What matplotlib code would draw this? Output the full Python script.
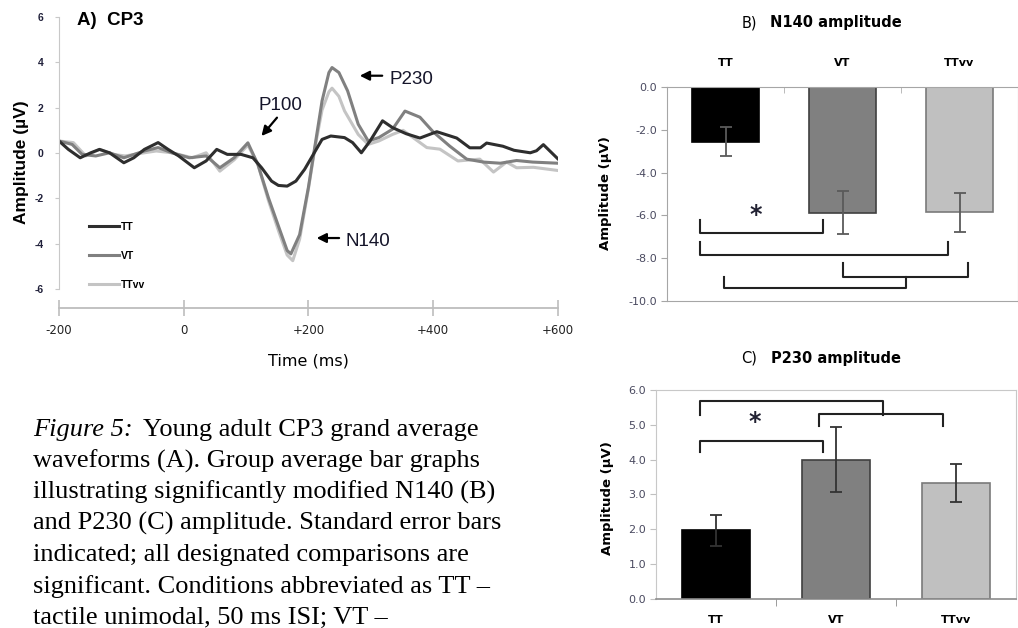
import numpy as np
import matplotlib.pyplot as plt

# ---- panel A: CP3 grand average waveforms ----
tt_time = [-200, -185, -166, -149, -135, -119, -96, -80, -63, -41, -25, -8, 17, 36, 53, 70,
           92, 111, 125, 141, 152, 166, 180, 194, 208, 222, 236, 258, 271, 285, 299, 319,
           335, 357, 379, 406, 438, 459, 476, 486, 512, 530, 556, 566, 577, 600]
tt_amp = [0.53, 0.16, -0.21, 0.01, 0.16, 0.01, -0.43, -0.21, 0.16, 0.46, 0.16, -0.13, -0.65,
          -0.35, 0.16, -0.06, -0.06, -0.21, -0.65, -1.24, -1.43, -1.46, -1.24, -0.72, -0.06,
          0.60, 0.75, 0.68, 0.46, 0.01, 0.53, 1.42, 1.12, 0.85, 0.66, 0.94, 0.66, 0.23, 0.23,
          0.44, 0.30, 0.12, 0.01, 0.10, 0.37, -0.25]

vt_time = [-200, -179, -163, -141, -119, -96, -63, -41, -19, 9, 36, 58, 81, 103, 119, 136,
           153, 166, 172, 186, 200, 211, 222, 233, 238, 249, 263, 280, 296, 313, 335, 355,
           379, 400, 427, 454, 481, 508, 534, 560, 600]
vt_amp = [0.53, 0.38, -0.06, -0.13, 0.01, -0.21, 0.09, 0.24, 0.01, -0.21, -0.13, -0.65, -0.21,
          0.45, -0.50, -1.98, -3.30, -4.30, -4.45, -3.60, -1.53, 0.38, 2.30, 3.55, 3.77, 3.55,
          2.74, 1.27, 0.53, 0.68, 1.05, 1.85, 1.58, 0.94, 0.30, -0.27, -0.40, -0.45, -0.33,
          -0.40, -0.45]

ttvv_time = [-200, -177, -157, -135, -113, -94, -63, -44, -19, 14, 36, 58, 81, 103, 119, 136,
             153, 166, 175, 186, 200, 211, 222, 233, 238, 249, 258, 280, 296, 313, 335, 352,
             368, 390, 411, 440, 475, 497, 518, 534, 561, 600]
ttvv_amp = [0.53, 0.46, -0.13, 0.16, -0.06, -0.13, 0.01, 0.09, 0.01, -0.21, 0.01, -0.80, -0.30,
            0.35, -0.50, -2.10, -3.50, -4.50, -4.75, -3.80, -1.60, 0.30, 1.90, 2.70, 2.86, 2.50,
            1.86, 0.82, 0.38, 0.53, 0.82, 1.00, 0.68, 0.24, 0.17, -0.35, -0.27, -0.84, -0.40,
            -0.65, -0.63, -0.77]

time_ticks = [-200, 0, 200, 400, 600]
time_labels = ['-200', '0', '+200', '+400', '+600']

# ---- panels B and C: group averages ----
conditions = ['TT', 'VT', 'TTvv']
bar_colors = ['#000000', '#808080', '#c0c0c0']
bar_edges = ['#000000', '#404040', '#7a7a7a']
n140_amp = [-2.55, -5.87, -5.85]
n140_err = [0.67, 1.00, 0.92]
p230_amp = [1.97, 4.00, 3.33]
p230_err = [0.45, 0.93, 0.55]

# significance brackets: (x left, x right, leg end, bar level)
n140_brackets = [(-0.22, 0.83, -6.22, -6.84), (-0.22, 1.90, -7.23, -7.85),
                 (1.00, 2.07, -8.22, -8.87), (-0.01, 1.54, -8.87, -9.42)]
p230_brackets = [(-0.13, 1.39, 5.28, 5.68), (0.855, 1.89, 4.96, 5.30),
                 (-0.13, 0.89, 4.22, 4.54)]

W, H = 1018, 628
fig = plt.figure(figsize=(W / 100, H / 100), dpi=100)


def rect(x0, y0, x1, y1):
    return [x0 / W, 1 - y1 / H, (x1 - x0) / W, (y1 - y0) / H]


sans = 'Liberation Sans'

# ================= A =================
axA = fig.add_axes(rect(59, 17, 557.7, 308.3))
axA.plot(ttvv_time, ttvv_amp, color='#c4c4c4', lw=2.2, label='TTvv')
axA.plot(vt_time, vt_amp, color='#808080', lw=2.2, label='VT')
axA.plot(tt_time, tt_amp, color='#2e2e2e', lw=2.2, label='TT')
axA.set_xlim(-200, 600)
axA.set_ylim(-6.85, 6)
for s in ['top', 'right']:
    axA.spines[s].set_visible(False)
axA.spines['left'].set_bounds(-6, 6)
axA.spines['left'].set_color('#c8c8c8')
axA.spines['bottom'].set_color('#bdbdbd')
axA.spines['bottom'].set_linewidth(1.3)
axA.set_yticks(range(-6, 7, 2))
axA.set_yticklabels([str(v) for v in range(-6, 7, 2)], fontsize=7.5, fontweight='bold',
                    family=sans, color='#20203a')
axA.tick_params(axis='y', length=3, color='#c8c8c8', pad=8)
axA.set_xticks(time_ticks)
axA.set_xticklabels(time_labels, fontsize=8.5, color='#222222')
axA.tick_params(axis='x', direction='inout', length=12, width=1.2, color='#bdbdbd', pad=5)
axA.set_ylabel('Amplitude (µV)', fontsize=12.5, fontweight='bold', family=sans, labelpad=4)
axA.set_xlabel('Time (ms)', fontsize=11.5, labelpad=12)

h, l = axA.get_legend_handles_labels()
axA.legend(h[::-1], l[::-1], loc='center left', bbox_to_anchor=(0.06, 0.18), frameon=False,
           borderpad=0, borderaxespad=0, handlelength=2.9, handletextpad=0.2, labelspacing=1.85,
           prop={'family': sans, 'weight': 'bold', 'size': 7.5})

axA.text(-171, 5.84, 'A)  CP3', fontsize=13.5, fontweight='bold', family=sans, va='center')
arrow = dict(arrowstyle='-|>', color='black', lw=1.6, mutation_scale=14, shrinkA=0, shrinkB=0)
axA.annotate('', xy=(124.8, 0.75), xytext=(149.7, 1.56), arrowprops=arrow)
axA.text(155, 2.08, 'P100', fontsize=13.5, family=sans, ha='center', va='center', color='#15152a')
axA.annotate('', xy=(282.5, 3.41), xytext=(318.5, 3.41), arrowprops=arrow)
axA.text(365.5, 3.23, 'P230', fontsize=13.5, family=sans, ha='center', va='center', color='#15152a')
axA.annotate('', xy=(213.3, -3.75), xytext=(249.3, -3.75), arrowprops=arrow)
axA.text(294.7, -3.89, 'N140', fontsize=13.5, family=sans, ha='center', va='center', color='#15152a')

# ================= B =================
x = np.arange(len(conditions))
axB = fig.add_axes(rect(667, 87.3, 1018, 300.7))
axB.bar(x, n140_amp, width=0.57, color=bar_colors, edgecolor=bar_edges, lw=1.2)
axB.errorbar(x, n140_amp, yerr=n140_err, fmt='none', ecolor='#5a5a5a', elinewidth=1.3,
             capsize=4, capthick=1.3)
axB.set_xlim(-0.5, 2.5)
axB.set_ylim(-10, 0)
axB.xaxis.tick_top()
axB.set_xticks(x)
axB.set_xticklabels(conditions, fontsize=8, fontweight='bold')
axB.set_xticks([0.5, 1.5], minor=True)
axB.tick_params(axis='x', which='major', length=0, pad=14)
axB.tick_params(axis='x', which='minor', direction='in', length=4, color='#b0b0b0')
axB.set_yticks(np.arange(-10, 0.1, 2))
axB.set_yticklabels(['%.1f' % v for v in np.arange(-10, 0.1, 2)], fontsize=8, color='#4a4a60')
axB.tick_params(axis='y', length=4, color='#a6a6a6', pad=3)
for s in axB.spines.values():
    s.set_color('#a6a6a6')
for x0, x1, yl, yb in n140_brackets:
    axB.plot([x0, x0, x1, x1], [yl, yb, yb, yl], color='#222222', lw=1.5, clip_on=False)
axB.text(0.26, -6.0, '*', fontsize=17, fontweight='bold', ha='center', va='center', color='#222233')

# ================= C =================
axC = fig.add_axes(rect(656, 390, 1016, 598.7))
axC.bar(x, p230_amp, width=0.56, color=bar_colors, edgecolor=bar_edges, lw=1.2)
axC.errorbar(x, p230_amp, yerr=p230_err, fmt='none', ecolor='#333333', elinewidth=1.3,
             capsize=4, capthick=1.3)
axC.set_xlim(-0.5, 2.5)
axC.set_ylim(0, 6)
axC.set_xticks(x)
axC.set_xticklabels(conditions, fontsize=8, fontweight='bold')
axC.set_xticks([0.5, 1.5], minor=True)
axC.tick_params(axis='x', which='major', length=0, pad=12)
axC.tick_params(axis='x', which='minor', direction='out', length=5, color='#8c8c8c')
axC.set_yticks(np.arange(0, 6.1, 1))
axC.set_yticklabels(['%.1f' % v for v in np.arange(0, 6.1, 1)], fontsize=8, color='#4a4a60')
axC.tick_params(axis='y', length=4, color='#c0c0c0', pad=3)
for s in ['top', 'right', 'left']:
    axC.spines[s].set_color('#c8c8c8')
axC.spines['bottom'].set_color('#8c8c8c')
axC.spines['bottom'].set_linewidth(1.2)
for x0, x1, yl, yb in p230_brackets:
    axC.plot([x0, x0, x1, x1], [yl, yb, yb, yl], color='#222222', lw=1.5, clip_on=False)
axC.text(0.32, 5.08, '*', fontsize=17, fontweight='bold', ha='center', va='center', color='#222233')

# panel titles and axis labels
fig.text(757 / W, 1 - 22.7 / H, 'B)', fontsize=10.5, ha='right', va='center')
fig.text(770 / W, 1 - 22.7 / H, 'N140 amplitude', fontsize=10.5, fontweight='bold', va='center')
fig.text(757 / W, 1 - 358.3 / H, 'C)', fontsize=10.5, ha='right', va='center')
fig.text(771 / W, 1 - 358.3 / H, 'P230 amplitude', fontsize=10.5, fontweight='bold', va='center')
fig.text(606 / W, 1 - 193 / H, 'Amplitude (µV)', fontsize=9.5, fontweight='bold', rotation=90,
         ha='center', va='center')
fig.text(607 / W, 1 - 498 / H, 'Amplitude (µV)', fontsize=9.5, fontweight='bold', rotation=90,
         ha='center', va='center')

# caption
serif = 'Liberation Serif'
caption = ['waveforms (A). Group average bar graphs',
           'illustrating significantly modified N140 (B)',
           'and P230 (C) amplitude. Standard error bars',
           'indicated; all designated comparisons are',
           'significant. Conditions abbreviated as TT \u2013',
           'tactile unimodal, 50 ms ISI; VT \u2013']
fig.text(32.7 / W, 1 - 436 / H, 'Figure 5:', family=serif, style='italic', fontsize=19,
         va='baseline')
fig.text(143 / W, 1 - 436 / H, 'Young adult CP3 grand average', family=serif, fontsize=19,
         va='baseline')
for i, line in enumerate(caption):
    fig.text(32.7 / W, 1 - (436 + 31.3 * (i + 1)) / H, line, family=serif, fontsize=19,
             va='baseline')

fig.savefig('out.png', dpi=100)
